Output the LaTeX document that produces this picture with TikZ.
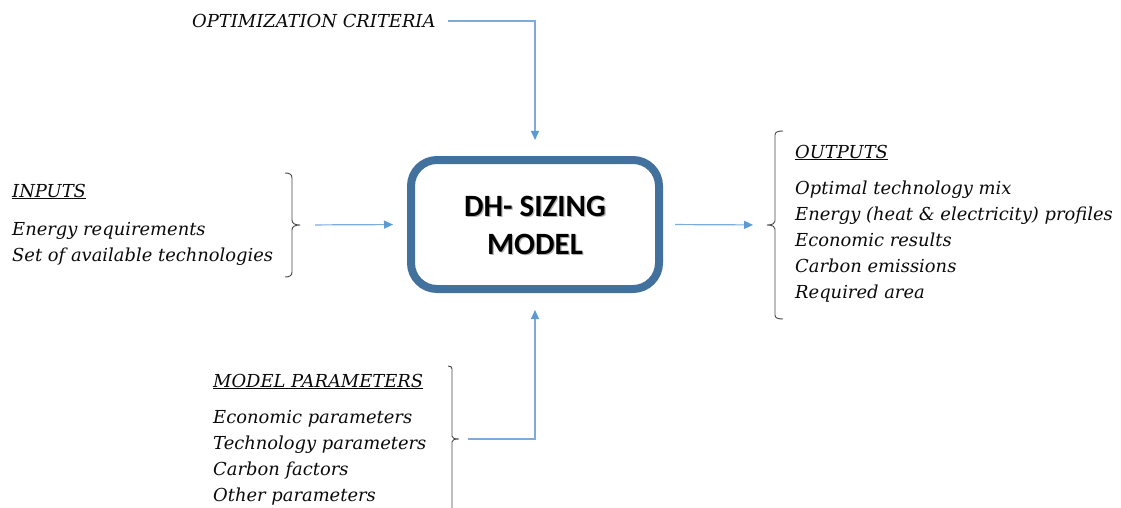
\documentclass[tikz,border=0pt]{standalone}
\usepackage{fontspec}
\setmainfont{DejaVu Serif}
\newfontfamily\boxfont{Carlito}
\usetikzlibrary{arrows.meta}
\definecolor{boxblue}{RGB}{65,113,156}
\definecolor{flowline}{RGB}{125,172,220}
\definecolor{flowtip}{RGB}{91,155,213}
\definecolor{bracketgray}{RGB}{70,70,70}
\definecolor{txt}{RGB}{10,10,10}
\begin{document}
\begin{tikzpicture}[x=1pt,y=-1pt,
  lbl/.style={anchor=base west,inner sep=0pt,font=\fontsize{17.9}{26}\selectfont\itshape,text=txt},
  modelbox/.style={draw=boxblue,line width=8pt,rounded corners=26pt,minimum width=248pt,minimum height=129pt},
  boxtext/.style={align=center,inner sep=0pt,font=\boxfont\bfseries\fontsize{31}{38}\selectfont},
  flow/.style={draw=flowline,line width=1.2pt,-{Triangle[length=9pt,width=8pt,color=flowtip]}},
  bracket/.style={draw=bracketgray,line width=0.9pt},
  ]
\useasboundingbox (0,0) rectangle (1121,508);

% central model block
\node[modelbox] (box) at (535,224.5) {};
\node[boxtext,text=black!30] (boxshadow) at (536.2,226.8) {DH- SIZING\\MODEL};
\node[boxtext,text=black] (boxlabel) at (535,225.5) {DH- SIZING\\MODEL};

% optimization criteria
\node[lbl] (opt) at (192,28) {OPTIMIZATION CRITERIA};
\coordinate (optstart) at (448,21);
\draw[flow,shorten >=16pt] (optstart) -| (box.north);

% inputs
\node[lbl] (inhead) at (12,197) {\underline{INPUTS}};
\node[lbl] (in1) at (12,235) {Energy requirements};
\node[lbl] (in2) at (12,261) {Set of available technologies};
\coordinate (inbrace) at (300,225);
\draw[bracket] (285,173) .. controls (289,173) and (292,174) .. (292,178) -- (292,220)
  .. controls (292,223) and (294,225) .. (inbrace)
  .. controls (294,225) and (292,227) .. (292,230) -- (292,272)
  .. controls (292,276) and (289,277) .. (285,277);
\draw[flow,shorten <=15pt,shorten >=14pt] (inbrace) -- (box.west);

% outputs
\coordinate (outbrace) at (767,225);
\draw[bracket] (783,131) .. controls (778,131) and (775,132) .. (775,135) -- (775,221)
  .. controls (775,223) and (773,225) .. (outbrace)
  .. controls (773,225) and (775,227) .. (775,229) -- (775,315)
  .. controls (775,318) and (778,319) .. (783,319);
\draw[flow,shorten <=12pt,shorten >=14pt] (box.east) -- (outbrace);
\node[lbl] (outhead) at (795,158) {\underline{OUTPUTS}};
\node[lbl] (out1) at (795,194) {Optimal technology mix};
\node[lbl] (out2) at (795,220) {Energy (heat \& electricity) profiles};
\node[lbl] (out3) at (795,246) {Economic results};
\node[lbl] (out4) at (795,272) {Carbon emissions};
\node[lbl] (out5) at (795,298) {Required area};

% model parameters
\node[lbl] (parhead) at (213,387) {\underline{MODEL PARAMETERS}};
\node[lbl] (par1) at (213,423) {Economic parameters};
\node[lbl] (par2) at (213,449) {Technology parameters};
\node[lbl] (par3) at (213,475) {Carbon factors};
\node[lbl] (par4) at (213,501) {Other parameters};
\coordinate (parbrace) at (459,439);
\draw[bracket] (448,366) .. controls (451,366) and (452,367) .. (452,369) -- (452,436)
  .. controls (452,438) and (454,439) .. (parbrace)
  .. controls (454,439) and (452,440) .. (452,442) -- (452,512);
\draw[flow,shorten <=9pt,shorten >=17pt] (parbrace) -| (box.south);
\end{tikzpicture}
\end{document}
